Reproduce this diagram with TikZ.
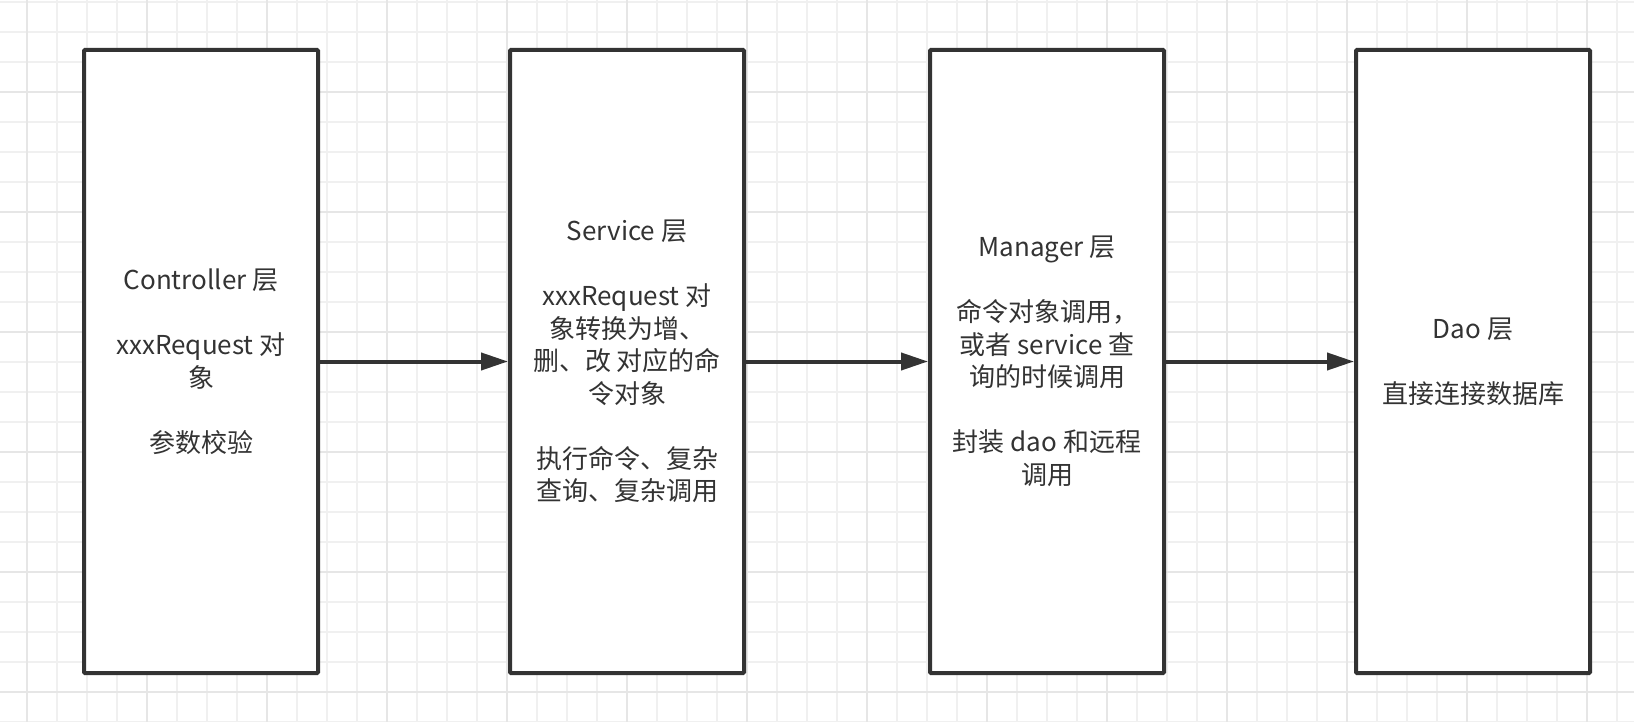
\documentclass[tikz,border=0pt]{standalone}
\usepackage{fontspec}
\setmainfont{Noto Sans CJK SC}
\usetikzlibrary{arrows.meta}
\definecolor{ink}{HTML}{333333}
\definecolor{gridminor}{HTML}{F0F0F0}
\definecolor{gridmajor}{HTML}{E6E6E6}
\tikzset{
  layer/.style={draw=ink, line width=4pt, fill=white, minimum width=234pt,
    minimum height=623pt, inner sep=0pt, align=center, text=ink,
    font=\fontsize{26}{32.5}\selectfont, rounded corners=1pt},
  flow/.style={draw=ink, line width=4pt, -{Triangle[length=27pt,width=17pt]}},
  minorline/.style={draw=gridminor, line width=1.5pt},
  majorline/.style={draw=gridmajor, line width=2pt},
}
\begin{document}
\begin{tikzpicture}[x=1pt,y=-1pt]
\useasboundingbox (0,0) rectangle (1634,722);
\fill[white] (0,0) rectangle (1634,722);
\begin{scope}
\clip (0,0) rectangle (1634,722);
\foreach \x in {-3,27,...,1647} \draw[minorline] (\x,0) -- (\x,722);
\foreach \y in {2,32,...,722} \draw[minorline] (0,\y) -- (1634,\y);
\foreach \x in {27,147,...,1587} \draw[majorline] (\x,0) -- (\x,722);
\foreach \y in {92,212,...,692} \draw[majorline] (0,\y) -- (1634,\y);
\end{scope}

\node[layer] (ctrl) at (201,361.5) {Controller 层\\[32.5pt]xxxRequest 对\\象\\[32.5pt]参数校验};
\node[layer] (svc) at (627,361.5) {Service 层\\[32.5pt]xxxRequest 对\\象转换为增、\\删、改 对应的命\\令对象\\[32.5pt]执行命令、复杂\\查询、复杂调用};
\node[layer] (mgr) at (1047,361.5) {Manager 层\\[32.5pt]命令对象调用，\\或者 service 查\\询的时候调用\\[32.5pt]封装 dao 和远程\\调用};
\node[layer] (dao) at (1473,361.5) {Dao 层\\[32.5pt]直接连接数据库};

\draw[flow] (ctrl.east) -- (svc.west);
\draw[flow] (svc.east) -- (mgr.west);
\draw[flow] (mgr.east) -- (dao.west);
\end{tikzpicture}
\end{document}
